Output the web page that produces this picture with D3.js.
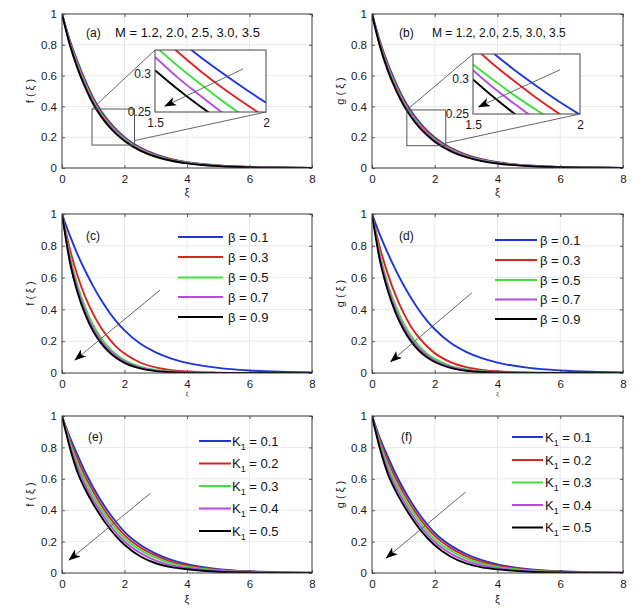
<!DOCTYPE html>
<html>
<head>
<meta charset="utf-8">
<script src="https://cdn.jsdelivr.net/npm/d3@7"></script>
<style>
  html, body { margin: 0; padding: 0; background: #fff; }
  svg { display: block; font-family: "Liberation Sans", Arial, sans-serif; }
</style>
</head>
<body>
<svg id="chart" width="640" height="608"></svg>
<script>
// ---------------- DATA ----------------
const xi = [0, 0.25, 0.5, 0.75, 1, 1.25, 1.5, 1.75, 2, 2.5, 3, 3.5, 4, 5, 6, 7, 8];
const xiInset = [1.5, 1.6, 1.7, 1.8, 1.9, 2.0];
const xTicks = [0, 2, 4, 6, 8];
const yTicks = [0, 0.2, 0.4, 0.6, 0.8, 1];
const insetXTicks = [1.5, 2];
const insetYTicks = [0.25, 0.3];

const mValuesLabel = "M = 1.2, 2.0, 2.5, 3.0, 3.5";
const betaValues = ["0.1", "0.3", "0.5", "0.7", "0.9"];
const k1Values = ["0.1", "0.2", "0.3", "0.4", "0.5"];

// (a) f(xi) for M = 1.2, 2.0, 2.5, 3.0, 3.5
const fM = [
  [1, 0.83, 0.69, 0.565, 0.455, 0.37, 0.303, 0.247, 0.200, 0.133, 0.088, 0.058, 0.038, 0.017, 0.007, 0.003, 0.001],
  [1, 0.822, 0.679, 0.554, 0.445, 0.361, 0.295, 0.240, 0.194, 0.128, 0.084, 0.055, 0.036, 0.016, 0.0065, 0.0025, 0.001],
  [1, 0.815, 0.668, 0.543, 0.435, 0.352, 0.287, 0.233, 0.188, 0.123, 0.080, 0.052, 0.034, 0.0145, 0.006, 0.0023, 0.0008],
  [1, 0.807, 0.656, 0.531, 0.425, 0.343, 0.278, 0.225, 0.181, 0.118, 0.076, 0.049, 0.032, 0.013, 0.0055, 0.002, 0.0005],
  [1, 0.80, 0.645, 0.52, 0.415, 0.335, 0.27, 0.218, 0.175, 0.113, 0.073, 0.047, 0.030, 0.012, 0.005, 0.002, 0]
];
// (b) g(xi) for M
const gM = [
  [1, 0.825, 0.68, 0.558, 0.452, 0.368, 0.300, 0.244, 0.198, 0.131, 0.087, 0.057, 0.037, 0.016, 0.007, 0.003, 0.001],
  [1, 0.817, 0.669, 0.546, 0.441, 0.358, 0.291, 0.236, 0.191, 0.126, 0.083, 0.054, 0.035, 0.015, 0.0065, 0.0025, 0.001],
  [1, 0.809, 0.658, 0.535, 0.431, 0.349, 0.283, 0.229, 0.185, 0.121, 0.079, 0.051, 0.033, 0.014, 0.006, 0.002, 0.0008],
  [1, 0.801, 0.647, 0.523, 0.421, 0.340, 0.275, 0.222, 0.178, 0.116, 0.075, 0.048, 0.031, 0.013, 0.0055, 0.002, 0.0005],
  [1, 0.793, 0.636, 0.512, 0.410, 0.330, 0.266, 0.214, 0.171, 0.110, 0.071, 0.045, 0.029, 0.012, 0.005, 0.002, 0]
];
// (c) f(xi) for beta = 0.1 ... 0.9
const fBeta = [
  [1, 0.865, 0.745, 0.64, 0.545, 0.46, 0.385, 0.322, 0.268, 0.185, 0.13, 0.091, 0.064, 0.032, 0.016, 0.008, 0.004],
  [1, 0.78, 0.61, 0.475, 0.37, 0.285, 0.218, 0.163, 0.122, 0.066, 0.035, 0.018, 0.009, 0.002, 0.0005, 0, 0],
  [1, 0.74, 0.55, 0.41, 0.30, 0.22, 0.16, 0.115, 0.082, 0.040, 0.019, 0.009, 0.004, 0.001, 0, 0, 0],
  [1, 0.72, 0.525, 0.385, 0.28, 0.203, 0.145, 0.103, 0.072, 0.034, 0.015, 0.007, 0.003, 0.001, 0, 0, 0],
  [1, 0.70, 0.505, 0.365, 0.262, 0.188, 0.133, 0.093, 0.064, 0.029, 0.012, 0.005, 0.002, 0, 0, 0, 0]
];
// (d) g(xi) for beta
const gBeta = [
  [1, 0.87, 0.755, 0.65, 0.555, 0.47, 0.395, 0.33, 0.275, 0.19, 0.133, 0.093, 0.065, 0.032, 0.016, 0.008, 0.004],
  [1, 0.79, 0.625, 0.49, 0.38, 0.29, 0.222, 0.168, 0.125, 0.069, 0.037, 0.02, 0.011, 0.003, 0.001, 0, 0],
  [1, 0.75, 0.565, 0.425, 0.315, 0.232, 0.17, 0.123, 0.089, 0.045, 0.022, 0.011, 0.005, 0.001, 0, 0, 0],
  [1, 0.73, 0.54, 0.40, 0.293, 0.213, 0.154, 0.110, 0.078, 0.038, 0.018, 0.008, 0.004, 0.001, 0, 0, 0],
  [1, 0.71, 0.52, 0.38, 0.275, 0.197, 0.14, 0.099, 0.069, 0.032, 0.014, 0.006, 0.003, 0, 0, 0, 0]
];
// (e) f(xi) for K1 = 0.1 ... 0.5
const fK = [
  [1, 0.865, 0.75, 0.64, 0.545, 0.46, 0.385, 0.32, 0.262, 0.18, 0.124, 0.084, 0.056, 0.025, 0.011, 0.005, 0.002],
  [1, 0.849, 0.7225, 0.6125, 0.519, 0.435, 0.361, 0.2975, 0.2415, 0.164, 0.111, 0.073, 0.048, 0.021, 0.009, 0.004, 0.0015],
  [1, 0.8325, 0.695, 0.585, 0.4925, 0.41, 0.3375, 0.275, 0.221, 0.147, 0.096, 0.061, 0.040, 0.0165, 0.007, 0.003, 0.001],
  [1, 0.816, 0.6675, 0.5575, 0.466, 0.385, 0.314, 0.2525, 0.2005, 0.128, 0.079, 0.049, 0.032, 0.0123, 0.005, 0.002, 0.0005],
  [1, 0.80, 0.64, 0.53, 0.44, 0.36, 0.29, 0.23, 0.18, 0.107, 0.062, 0.037, 0.024, 0.008, 0.003, 0.001, 0]
];
// (f) g(xi) for K1
const gK = [
  [1, 0.86, 0.742, 0.632, 0.537, 0.452, 0.377, 0.312, 0.255, 0.176, 0.121, 0.082, 0.055, 0.024, 0.011, 0.005, 0.002],
  [1, 0.844, 0.715, 0.605, 0.512, 0.428, 0.354, 0.291, 0.236, 0.160, 0.108, 0.071, 0.047, 0.020, 0.009, 0.004, 0.0015],
  [1, 0.828, 0.689, 0.579, 0.486, 0.404, 0.331, 0.269, 0.216, 0.143, 0.093, 0.060, 0.039, 0.016, 0.007, 0.003, 0.001],
  [1, 0.811, 0.662, 0.552, 0.461, 0.379, 0.308, 0.248, 0.197, 0.125, 0.077, 0.048, 0.031, 0.012, 0.005, 0.002, 0.0005],
  [1, 0.795, 0.635, 0.525, 0.435, 0.355, 0.285, 0.226, 0.177, 0.105, 0.061, 0.036, 0.023, 0.008, 0.003, 0.001, 0]
];
// zoomed insets (a) and (b), xi = 1.5 ... 2
const insetFM = [
  [0.370, 0.345, 0.322, 0.301, 0.281, 0.262],
  [0.353, 0.328, 0.304, 0.282, 0.262, 0.243],
  [0.335, 0.310, 0.287, 0.265, 0.245, 0.227],
  [0.321, 0.295, 0.272, 0.250, 0.230, 0.212],
  [0.304, 0.280, 0.258, 0.238, 0.219, 0.202]
];
const insetGM = [
  [0.361, 0.335, 0.311, 0.289, 0.268, 0.249],
  [0.346, 0.319, 0.295, 0.272, 0.251, 0.231],
  [0.320, 0.297, 0.275, 0.255, 0.236, 0.219],
  [0.312, 0.286, 0.263, 0.241, 0.221, 0.203],
  [0.299, 0.273, 0.249, 0.227, 0.207, 0.189]
];

// ---------------- STYLE / LAYOUT ----------------
const colors = ["#1f35d6", "#dd2222", "#40e040", "#b44ce0", "#000000"];
const axisColor = "#3a3a3a";
const gridColor = "#e4e4e4";
const cols = [{ x0: 62, x1: 312 }, { x0: 372, x1: 623 }];
const rows = [{ y0: 14, y1: 168 }, { y0: 214, y1: 373 }, { y0: 416, y1: 573 }];

const svg = d3.select("#chart");
svg.append("rect").attr("width", 640).attr("height", 608).attr("fill", "#fff");

const defs = svg.append("defs");
defs.append("marker")
  .attr("id", "arrowHead")
  .attr("viewBox", "0 0 12 9")
  .attr("refX", 11).attr("refY", 4.5)
  .attr("markerWidth", 12).attr("markerHeight", 9)
  .attr("markerUnits", "userSpaceOnUse")
  .attr("orient", "auto")
  .append("path")
  .attr("d", "M0,0 L12,4.5 L0,9 L3,4.5 Z")
  .attr("fill", "#000");

const panels = [
  { id: "a", c: 0, r: 0, data: fM, yl: "f", tag: "(a)", tagX: 86, tagY: 37, xlabSize: 11, xlabY: 196,
    mText: { x: 115, y: 37, size: 13 },
    inset: { data: insetFM, box: [155, 50, 266, 112], yDom: [0.25, 0.33],
             rect: [0.96, 2.32, 0.149, 0.383], lowY: 0.178,
             arrow: [[1.896, 0.3055], [1.545, 0.2577]] } },
  { id: "b", c: 1, r: 0, data: gM, yl: "g", tag: "(b)", tagX: 399, tagY: 37, xlabSize: 11, xlabY: 196,
    mText: { x: 432, y: 37, size: 12 },
    inset: { data: insetGM, box: [473, 54, 580, 114], yDom: [0.25, 0.335],
             rect: [1.11, 2.35, 0.145, 0.377], lowY: 0.162,
             arrow: [[1.907, 0.3127], [1.527, 0.2603]] } },
  { id: "c", c: 0, r: 1, data: fBeta, yl: "f", tag: "(c)", tagX: 86, tagY: 240, xlabSize: 6, xlabY: 396,
    legend: { kind: "beta", x0: 178, x1: 223, tx: 228, ys: [237, 257, 277.5, 297, 317] },
    arrow: [[3.14, 0.522], [0.42, 0.082]] },
  { id: "d", c: 1, r: 1, data: gBeta, yl: "g", tag: "(d)", tagX: 399, tagY: 240, xlabSize: 6, xlabY: 396,
    legend: { kind: "beta", x0: 495, x1: 537, tx: 540, ys: [240, 260, 280, 299.5, 319] },
    arrow: [[3.18, 0.504], [0.6, 0.072]] },
  { id: "e", c: 0, r: 2, data: fK, yl: "f", tag: "(e)", tagX: 88, tagY: 441, xlabSize: 11, xlabY: 603,
    legend: { kind: "k", x0: 199, x1: 231, tx: 232, ys: [441, 463.5, 486, 508.5, 531] },
    arrow: [[2.83, 0.508], [0.23, 0.083]] },
  { id: "f", c: 1, r: 2, data: gK, yl: "g", tag: "(f)", tagX: 401, tagY: 441, xlabSize: 11, xlabY: 603,
    legend: { kind: "k", x0: 512, x1: 543, tx: 545, ys: [437, 460, 482.5, 505, 527.5] },
    arrow: [[2.98, 0.515], [0.46, 0.096]] }
];

function styleAxis(g, size) {
  g.select(".domain").remove();
  g.selectAll(".tick line").attr("stroke", axisColor).attr("stroke-width", 0.8);
  g.selectAll(".tick text").attr("fill", "#1a1a1a").style("font-size", size + "px")
    .style("font-family", "'Liberation Sans', Arial, sans-serif");
}

panels.forEach(p => {
  const { x0, x1 } = cols[p.c];
  const { y0, y1 } = rows[p.r];
  const x = d3.scaleLinear().domain([0, 8]).range([x0, x1]);
  const y = d3.scaleLinear().domain([0, 1]).range([y1, y0]);
  const g = svg.append("g").attr("class", "panel-" + p.id);

  // grid
  g.append("g").selectAll("line").data(xTicks.slice(1, -1)).join("line")
    .attr("x1", d => x(d)).attr("x2", d => x(d)).attr("y1", y0).attr("y2", y1)
    .attr("stroke", gridColor).attr("stroke-width", 0.8);
  g.append("g").selectAll("line").data(yTicks.slice(1, -1)).join("line")
    .attr("y1", d => y(d)).attr("y2", d => y(d)).attr("x1", x0).attr("x2", x1)
    .attr("stroke", gridColor).attr("stroke-width", 0.8);

  // curves
  const clipId = "clip-" + p.id;
  defs.append("clipPath").attr("id", clipId).append("rect")
    .attr("x", x0).attr("y", y0 - 1).attr("width", x1 - x0).attr("height", y1 - y0 + 1);
  const line = d3.line().x((d, i) => x(xi[i])).y(d => y(d)).curve(d3.curveMonotoneX);
  g.append("g").attr("clip-path", `url(#${clipId})`)
    .selectAll("path").data(p.data).join("path")
    .attr("d", d => line(d)).attr("fill", "none")
    .attr("stroke", (d, i) => colors[i]).attr("stroke-width", 1.9);

  // axes
  g.append("g").attr("transform", `translate(0,${y1})`)
    .call(d3.axisBottom(x).tickValues(xTicks).tickSize(-3).tickPadding(7).tickFormat(d3.format("~g")))
    .call(a => styleAxis(a, 11.5));
  g.append("g").attr("transform", `translate(0,${y0})`)
    .call(d3.axisTop(x).tickValues(xTicks).tickSize(-3).tickFormat(""))
    .call(a => styleAxis(a, 11.5));
  g.append("g").attr("transform", `translate(${x0},0)`)
    .call(d3.axisLeft(y).tickValues(yTicks).tickSize(-3).tickPadding(5).tickFormat(d3.format("~g")))
    .call(a => styleAxis(a, 11.5));
  g.append("g").attr("transform", `translate(${x1},0)`)
    .call(d3.axisRight(y).tickValues(yTicks).tickSize(-3).tickFormat(""))
    .call(a => styleAxis(a, 11.5));
  g.append("rect").attr("x", x0).attr("y", y0).attr("width", x1 - x0).attr("height", y1 - y0)
    .attr("fill", "none").attr("stroke", axisColor).attr("stroke-width", 1);

  // axis labels
  const midY = (y0 + y1) / 2;
  const ylx = p.c === 0 ? 30 : 340;
  g.append("text").attr("transform", `translate(${ylx + 4},${midY}) rotate(-90)`)
    .attr("text-anchor", "middle").style("font-size", "11px").attr("fill", "#1a1a1a")
    .text(p.yl + " ( ξ )");
  g.append("text").attr("x", (x0 + x1) / 2).attr("y", p.xlabY)
    .attr("text-anchor", "middle").style("font-size", p.xlabSize + "px").attr("fill", "#1a1a1a")
    .text("ξ");

  // panel tag
  g.append("text").attr("x", p.tagX).attr("y", p.tagY).style("font-size", "12px")
    .attr("fill", "#111").text(p.tag);

  if (p.mText) {
    g.append("text").attr("x", p.mText.x).attr("y", p.mText.y)
      .style("font-size", p.mText.size + "px").attr("fill", "#111").text(mValuesLabel);
  }

  // arrow in main axes
  if (p.arrow) {
    g.append("line")
      .attr("x1", x(p.arrow[0][0])).attr("y1", y(p.arrow[0][1]))
      .attr("x2", x(p.arrow[1][0])).attr("y2", y(p.arrow[1][1]))
      .attr("stroke", "#555").attr("stroke-width", 0.9)
      .attr("marker-end", "url(#arrowHead)");
  }

  // legend
  if (p.legend) {
    const L = p.legend;
    const lg = g.append("g");
    L.ys.forEach((ly, i) => {
      lg.append("line").attr("x1", L.x0).attr("x2", L.x1).attr("y1", ly).attr("y2", ly)
        .attr("stroke", colors[i]).attr("stroke-width", 2);
      const t = lg.append("text").attr("x", L.tx).attr("y", ly + 4.5)
        .style("font-size", "13px").attr("fill", "#111");
      if (L.kind === "beta") {
        t.text("β = " + betaValues[i]);
      } else {
        t.append("tspan").text("K");
        t.append("tspan").attr("dy", 4).style("font-size", "9px").text("1");
        t.append("tspan").attr("dy", -4).text(" = " + k1Values[i]);
      }
    });
  }

  // inset
  if (p.inset) {
    const I = p.inset;
    const [bx0, by0, bx1, by1] = I.box;
    const ix = d3.scaleLinear().domain([1.5, 2]).range([bx0, bx1]);
    const iy = d3.scaleLinear().domain(I.yDom).range([by1, by0]);
    const rx0 = x(I.rect[0]), rx1 = x(I.rect[1]), ry0 = y(I.rect[3]), ry1 = y(I.rect[2]);
    g.append("rect").attr("x", rx0).attr("y", ry0).attr("width", rx1 - rx0).attr("height", ry1 - ry0)
      .attr("fill", "none").attr("stroke", "#555").attr("stroke-width", 1);
    g.append("line").attr("x1", rx0).attr("y1", ry0).attr("x2", bx0).attr("y2", by0)
      .attr("stroke", "#555").attr("stroke-width", 0.9);
    g.append("line").attr("x1", rx1).attr("y1", y(I.lowY)).attr("x2", bx1).attr("y2", by1)
      .attr("stroke", "#555").attr("stroke-width", 0.9);

    g.append("rect").attr("x", bx0).attr("y", by0).attr("width", bx1 - bx0).attr("height", by1 - by0)
      .attr("fill", "#fff");
    const iclip = "iclip-" + p.id;
    defs.append("clipPath").attr("id", iclip).append("rect")
      .attr("x", bx0).attr("y", by0).attr("width", bx1 - bx0).attr("height", by1 - by0);
    const iline = d3.line().x((d, i) => ix(xiInset[i])).y(d => iy(d)).curve(d3.curveMonotoneX);
    g.append("g").attr("clip-path", `url(#${iclip})`)
      .selectAll("path").data(I.data).join("path")
      .attr("d", d => iline(d)).attr("fill", "none")
      .attr("stroke", (d, i) => colors[i]).attr("stroke-width", 1.9);
    g.append("line")
      .attr("x1", ix(I.arrow[0][0])).attr("y1", iy(I.arrow[0][1]))
      .attr("x2", ix(I.arrow[1][0])).attr("y2", iy(I.arrow[1][1]))
      .attr("stroke", "#555").attr("stroke-width", 0.9)
      .attr("marker-end", "url(#arrowHead)");
    g.append("g").attr("transform", `translate(0,${by1})`)
      .call(d3.axisBottom(ix).tickValues(insetXTicks).tickSize(0).tickPadding(6).tickFormat(d3.format("~g")))
      .call(a => styleAxis(a, 12));
    g.append("g").attr("transform", `translate(${bx0},0)`)
      .call(d3.axisLeft(iy).tickValues(insetYTicks).tickSize(0).tickPadding(4).tickFormat(d3.format("~g")))
      .call(a => styleAxis(a, 12));
    g.append("rect").attr("x", bx0).attr("y", by0).attr("width", bx1 - bx0).attr("height", by1 - by0)
      .attr("fill", "none").attr("stroke", "#555").attr("stroke-width", 1.1);
  }
});
</script>
</body>
</html>
